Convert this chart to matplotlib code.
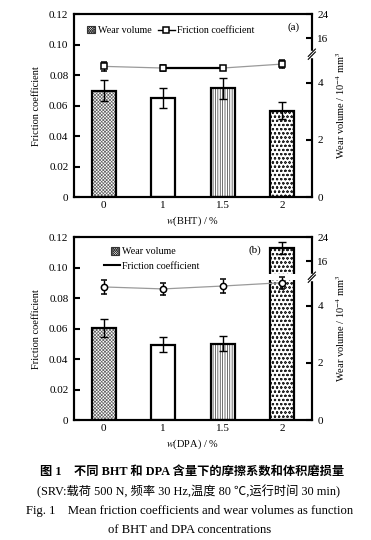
import numpy as np
import matplotlib
matplotlib.use("Agg")
import matplotlib.pyplot as plt
from matplotlib.patches import Rectangle
from matplotlib.lines import Line2D
from matplotlib.legend_handler import HandlerPatch

plt.rcParams['font.family'] = ['Liberation Serif', 'Noto Sans CJK SC']
plt.rcParams['mathtext.fontset'] = 'stix'
plt.rcParams['hatch.linewidth'] = 0.5

# data
conc_labels = ['0', '1', '1.5', '2']

wear_bht = [3.72, 3.47, 3.81, 3.02]
wear_bht_err = [0.36, 0.36, 0.37, 0.30]
fric_bht = [0.0857, 0.0846, 0.0846, 0.0872]
fric_bht_err = [0.0029, 0.0018, 0.0012, 0.0028]

wear_dpa = [3.22, 2.64, 2.67, 20.5]
wear_dpa_err = [0.31, 0.26, 0.26, 2.0]
fric_dpa = [0.0873, 0.0860, 0.0879, 0.0901]
fric_dpa_err = [0.0044, 0.0041, 0.0045, 0.0040]

hatches = ['xxxxxxxxxx', '', '|||||||', 'oooo']
hatch_colors = ['#666666', 'black', '#333333', '#222222']

# broken right axis: 0-5 linear, then 10.8-24 compressed
BRK_LO, BRK_HI, K_UP, K_GAP = 5.0, 10.8, 0.106, 0.001
Y_GAP = BRK_LO + (BRK_HI - BRK_LO) * K_GAP


def fwd(v):
    v = np.asarray(v, dtype=float)
    return np.where(v <= BRK_LO, v,
                    np.where(v >= BRK_HI, Y_GAP + (v - BRK_HI) * K_UP,
                             BRK_LO + (v - BRK_LO) * K_GAP))


def inv(y):
    y = np.asarray(y, dtype=float)
    return np.where(y <= BRK_LO, y,
                    np.where(y >= Y_GAP, BRK_HI + (y - Y_GAP) / K_UP,
                             BRK_LO + (y - BRK_LO) / K_GAP))


BREAK_FRIC = 0.12 * float(fwd(BRK_LO)) / float(fwd(24))
BAR_W = 0.4


def square_patch(legend, orig_handle, xdescent, ydescent, width, height, fontsize):
    s = height * 1.05
    return Rectangle((width - s - 1, -ydescent + (height - s) / 2), s, s)


def panel(rect, wear, wear_err, fric, fric_err, marker, tag, tag_xy, xlab, mode):
    ax = fig.add_axes(rect)
    ax2 = ax.twinx()
    x = np.arange(len(conc_labels))

    fills = ax2.bar(x, wear, width=BAR_W, color='white', linewidth=0, zorder=2)
    for b, h, c in zip(fills, hatches, hatch_colors):
        b.set_hatch(h)
        b.set_edgecolor(c)
    ax2.bar(x, wear, width=BAR_W, fill=False, edgecolor='black',
            linewidth=1.6, zorder=2.1)
    ax2.errorbar(x, wear, yerr=wear_err, fmt='none', ecolor='black',
                 elinewidth=1.0, capsize=3, capthick=1.0, zorder=3)
    ax2.set_yscale('function', functions=(fwd, inv))
    ax2.set_ylim(0, 24)
    ax2.set_yticks([0, 2, 4, 16, 24])
    ax2.set_yticklabels(['0', '2', '4', '16', '24'])
    ax2.set_ylabel('Wear volume / 10$^{-4}$ mm$^3$', fontsize=7.5, labelpad=4)

    ax.set_zorder(ax2.get_zorder() + 1)
    ax.patch.set_visible(False)

    ax.plot(x, fric, color='#9a9a9a', linewidth=0.9, zorder=2)
    if mode == 'a':
        ax.plot(x[1:3], fric[1:3], color='black', linewidth=1.6, zorder=2)
    ax.errorbar(x, fric, yerr=fric_err, fmt=marker, color='black',
                markerfacecolor='white', markeredgecolor='black',
                markersize=4.5, markeredgewidth=1.1, elinewidth=1.0,
                capsize=2.5, capthick=1.0, zorder=4, linestyle='none')

    # white gap in a bar that crosses the break
    for xi, w in zip(x, wear):
        if w > BRK_HI:
            ax.add_patch(Rectangle((xi - BAR_W / 2 - 0.05, BREAK_FRIC - 0.0018),
                                   BAR_W + 0.1, 0.0036, facecolor='white',
                                   edgecolor='none', zorder=1))

    ax.set_xlim(-0.5, 3.5)
    ax.set_ylim(0, 0.12)
    ax.set_yticks([0, 0.02, 0.04, 0.06, 0.08, 0.10, 0.12])
    ax.set_yticklabels(['0', '0.02', '0.04', '0.06', '0.08', '0.10', '0.12'])
    ax.set_xticks(x)
    ax.set_xticklabels(conc_labels)
    ax.set_xticks([0.5, 1.5, 2.5], minor=True)
    ax.tick_params(axis='x', which='major', length=0, pad=3, labelsize=8)
    ax.tick_params(axis='x', which='minor', direction='in', length=4, width=1.5)
    ax.tick_params(axis='y', direction='in', length=4, width=1.5, labelsize=8, pad=4)
    ax2.tick_params(axis='y', direction='in', length=4, width=1.5, labelsize=8, pad=4)
    ax2.minorticks_off()
    ax.set_ylabel('Friction coefficient', fontsize=7.5, labelpad=6)
    ax.set_xlabel(xlab, fontsize=7.5, labelpad=3)
    for a in (ax, ax2):
        for s in a.spines.values():
            s.set_linewidth(1.5)

    # break marks on the right spine
    yb = BREAK_FRIC / 0.12
    ax.plot([1, 1], [yb - 0.012, yb + 0.012], transform=ax.transAxes,
            color='white', linewidth=2.5, clip_on=False, zorder=6)
    for d in (-0.008, 0.008):
        ax.plot([0.985, 1.015], [yb - 0.02 + d, yb + 0.02 + d],
                transform=ax.transAxes, color='black', linewidth=0.8,
                clip_on=False, zorder=7)

    ax.text(tag_xy[0], tag_xy[1], '(' + tag + ')', transform=ax.transAxes,
            fontsize=8, ha='center', va='center')

    wear_handle = Rectangle((0, 0), 1, 1, facecolor='white', edgecolor='#333333',
                            hatch='xxxxxxxxxxxxxx', linewidth=0.8)
    hmap = {wear_handle: HandlerPatch(patch_func=square_patch)}
    if mode == 'a':
        fric_handle = Line2D([], [], color='black', marker='s',
                             markerfacecolor='white', markersize=4.5,
                             markeredgewidth=1.1, linewidth=1.0)
        ax.legend([wear_handle, fric_handle], ['Wear volume', 'Friction coefficient'],
                  handler_map=hmap, loc='upper left', bbox_to_anchor=(0.005, 0.955),
                  ncol=2, frameon=False, fontsize=7.2, handlelength=1.7,
                  handleheight=0.7, handletextpad=0.2, columnspacing=0.6,
                  borderaxespad=0)
    else:
        fric_handle = Line2D([], [], color='black', linewidth=1.5)
        ax.legend([wear_handle, fric_handle], ['Wear volume', 'Friction coefficient'],
                  handler_map=hmap, loc='upper left', bbox_to_anchor=(0.11, 0.965),
                  ncol=1, frameon=False, fontsize=7.2, handlelength=1.6,
                  handleheight=0.7, handletextpad=0.2, labelspacing=0.55,
                  borderaxespad=0)
    return ax


fig = plt.figure(figsize=(3.71, 5.40), dpi=100)

panel([0.1995, 0.635, 0.641, 0.339], wear_bht, wear_bht_err, fric_bht,
      fric_bht_err, 's', 'a', (0.925, 0.93), '$w$(BHT) / %', 'a')
panel([0.1995, 0.222, 0.641, 0.339], wear_dpa, wear_dpa_err, fric_dpa,
      fric_dpa_err, 'o', 'b', (0.76, 0.93), '$w$(DPA) / %', 'b')

fig.text(0.517, 1 - 472 / 540, '图 1    不同 BHT 和 DPA 含量下的摩擦系数和体积磨损量',
         ha='center', va='center', fontsize=8.8, fontweight='bold')
fig.text(0.507, 1 - 492 / 540, '(SRV:载荷 500 N, 频率 30 Hz,温度 80 ℃,运行时间 30 min)',
         ha='center', va='center', fontsize=8.8)
fig.text(0.512, 1 - 511 / 540, 'Fig. 1    Mean friction coefficients and wear volumes as function',
         ha='center', va='center', fontsize=9.1)
fig.text(0.512, 1 - 530 / 540, 'of BHT and DPA concentrations',
         ha='center', va='center', fontsize=9.1)

fig.savefig('out.png', dpi=100)
